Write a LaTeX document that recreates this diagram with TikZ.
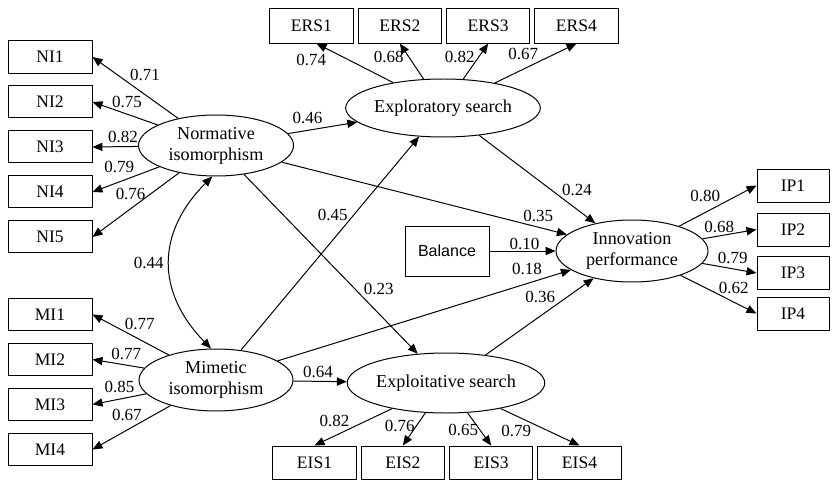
\documentclass[tikz,border=0pt]{standalone}
\usepackage{fontspec}
\setmainfont{Liberation Serif}
\newfontfamily\balfont{Liberation Sans}
\usetikzlibrary{shapes.geometric,positioning,arrows.meta}

\tikzset{
  latent/.style={ellipse, draw, inner sep=0pt, align=center, font=\fontsize{15.5}{18}\selectfont},
  obs/.style={rectangle, draw, minimum width=2.52cm, minimum height=0.96cm, inner sep=0pt, font=\fontsize{15}{17}\selectfont},
  lbl/.style={inner sep=1pt, font=\fontsize{14.5}{17}\selectfont},
}

\begin{document}
\begin{tikzpicture}[x=0.03cm, y=-0.03cm, line width=0.85pt, >={Triangle[length=8.5pt,width=7pt]}]
            \fill[white] (0,0) rectangle (833,480);
            \useasboundingbox (0,0) rectangle (833,480);
            % latent variables
            \node[latent, minimum width=4.65cm, minimum height=1.83cm] (Norm) at (216,145.5) {Normative\\isomorphism};
            \node[latent, minimum width=4.62cm, minimum height=1.86cm] (Mim) at (216,380) {Mimetic\\isomorphism};
            \node[latent, minimum width=4.5cm, minimum height=1.74cm] (Explor) at (443,108) {Exploratory search};
            \node[latent, minimum width=4.62cm, minimum height=1.8cm] (Exploit) at (446,383) {Exploitative search};
            \node[latent, minimum width=4.56cm, minimum height=1.86cm] (Innov) at (632,251) {Innovation\\performance};
            % indicators
            \node[obs] (NI1) at (50,57) {NI1};
            \node[obs] (NI2) [below=0.36cm of NI1] {NI2};
            \node[obs] (NI3) [below=0.36cm of NI2] {NI3};
            \node[obs] (NI4) [below=0.36cm of NI3] {NI4};
            \node[obs] (NI5) [below=0.36cm of NI4] {NI5};
            \node[obs] (MI1) at (50,314.5) {MI1};
            \node[obs] (MI2) [below=0.36cm of MI1] {MI2};
            \node[obs] (MI3) [below=0.36cm of MI2] {MI3};
            \node[obs] (MI4) [below=0.36cm of MI3] {MI4};
            \node[obs, minimum width=2.5cm, minimum height=1.02cm] (ERS1) at (311.5,26) {ERS1};
            \node[obs, minimum width=2.5cm, minimum height=1.02cm] (ERS2) [right=0.12cm of ERS1] {ERS2};
            \node[obs, minimum width=2.5cm, minimum height=1.02cm] (ERS3) [right=0.12cm of ERS2] {ERS3};
            \node[obs, minimum width=2.5cm, minimum height=1.02cm] (ERS4) [right=0.12cm of ERS3] {ERS4};
            \node[obs, minimum width=2.5cm, minimum height=0.99cm] (EIS1) at (314.5,462.5) {EIS1};
            \node[obs, minimum width=2.5cm, minimum height=0.99cm] (EIS2) [right=0.12cm of EIS1] {EIS2};
            \node[obs, minimum width=2.5cm, minimum height=0.99cm] (EIS3) [right=0.12cm of EIS2] {EIS3};
            \node[obs, minimum width=2.5cm, minimum height=0.99cm] (EIS4) [right=0.12cm of EIS3] {EIS4};
            \node[obs, minimum width=2.16cm, minimum height=0.99cm] (IP1) at (793,185.5) {IP1};
            \node[obs, minimum width=2.16cm, minimum height=0.99cm] (IP2) at (793,229.5) {IP2};
            \node[obs, minimum width=2.16cm, minimum height=0.99cm] (IP3) at (793,273) {IP3};
            \node[obs, minimum width=2.16cm, minimum height=0.99cm] (IP4) at (793,313.5) {IP4};
            \node[obs, minimum height=1.5cm, font=\balfont\fontsize{13.7}{16}\selectfont] (Bal) at (447,251) {Balance};
            % loadings
            \path[->] (Norm) edge node[lbl, pos=0.58, above right]{0.71} (NI1.east);
            \path[->] (Norm) edge node[lbl, pos=0.47, above=4pt]{0.75} (NI2.east);
            \path[->] (Norm) edge node[lbl, pos=0.33, above=2pt]{0.82} (NI3.east);
            \path[->] (Norm) edge node[lbl, pos=0.6, above=6pt]{0.79} (NI4.east);
            \path[->] (Norm) edge node[lbl, pos=0.56, above=6pt]{0.76} (NI5.east);
            \path[->] (Mim) edge node[lbl, pos=0.38, above=7pt]{0.77} (MI1.east);
            \path[->] (Mim) edge node[lbl, pos=0.35, above=3pt]{0.77} (MI2.east);
            \path[->] (Mim) edge node[lbl, pos=0.5, above=4pt]{0.85} (MI3.east);
            \path[->] (Mim) edge node[lbl, pos=0.56, above=7pt]{0.67} (MI4.east);
            \path[->] (Explor) edge node[lbl, pos=0.82, below left=3pt]{0.74} ([xshift=0.15cm]ERS1.south);
            \path[->] (Explor) edge node[lbl, pos=0.62, left=3pt]{0.68} (ERS2.south);
            \path[->] (Explor) edge node[lbl, pos=0.62, left=2pt]{0.82} (ERS3.south);
            \path[->] (Explor) edge node[lbl, pos=0.55, above left]{0.67} (ERS4.south);
            \path[->] (Exploit) edge node[lbl, pos=0.53, above left]{0.82} (EIS1.north);
            \path[->] (Exploit) edge node[lbl, pos=0.4, left]{0.76} (EIS2.north);
            \path[->] (Exploit) edge node[lbl, pos=0.52, left]{0.65} (EIS3.north);
            \path[->] (Exploit) edge node[lbl, pos=0.41, below left]{0.79} (EIS4.north);
            \path[->] (Innov) edge node[lbl, pos=0.55, above left]{0.80} (IP1.west);
            \path[->] (Innov) edge node[lbl, pos=0.31, above=1pt]{0.68} (IP2.west);
            \path[->] (Innov) edge node[lbl, pos=0.56, above=3pt]{0.79} (IP3.west);
            \path[->] (Innov) edge node[lbl, pos=0.7, above=6pt]{0.62} (IP4.west);
            % paths
            \path[->] (Norm) edge node[lbl, pos=0.28, above=4pt]{0.46} (Explor);
            \path[->] (Norm) edge node[lbl, pos=0.9, above=3pt]{0.35} (Innov);
            \path[->] (Norm) edge node[lbl, pos=0.64, right=6pt]{0.23} (Exploit);
            \path[->] (Mim) edge node[lbl, pos=0.635, left=4pt]{0.45} (Explor);
            \path[->] (Mim) edge node[lbl, pos=0.85, above=6pt]{0.18} (Innov);
            \path[->] (Mim) edge node[lbl, pos=0.46, above=2pt]{0.64} (Exploit);
            \path[->] (Explor) edge node[lbl, pos=0.7, above right]{0.24} (Innov);
            \path[->] (Bal) edge node[lbl, pos=0.53, above]{0.10} (Innov);
            \path[->] (Exploit) edge node[lbl, pos=0.66, above left]{0.36} (Innov);
            \draw[<->] (Norm.263) .. controls (156,233) and (156,292) .. node[lbl, left=4pt]{0.44} (Mim.99);
        \end{tikzpicture}
\end{document}
